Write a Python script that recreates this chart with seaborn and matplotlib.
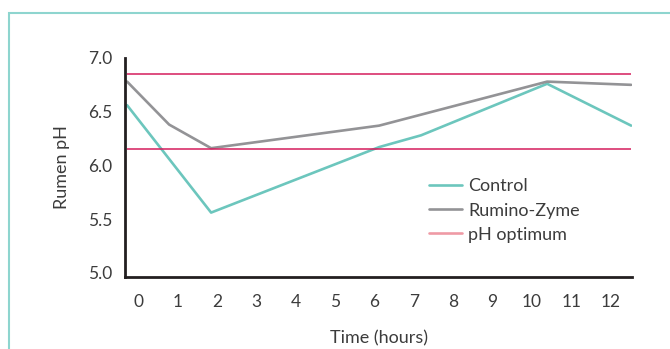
import matplotlib
matplotlib.use("Agg")
import matplotlib.pyplot as plt
from matplotlib.patches import Rectangle
from matplotlib.lines import Line2D
import seaborn as sns
import pandas as pd

# Dados
control_hours = [0, 2, 6, 7, 9, 10, 12]
control_ph = [6.56, 5.56, 6.17, 6.28, 6.60, 6.76, 6.37]
zyme_hours = [0, 1, 2, 6, 10, 12]
zyme_ph = [6.78, 6.38, 6.16, 6.37, 6.78, 6.75]
optimum_ph = [6.15, 6.85]
tick_labels = [str(h) for h in range(13)]

df = pd.concat([
    pd.DataFrame({"Time": control_hours, "pH": control_ph, "Série": "Control"}),
    pd.DataFrame({"Time": zyme_hours, "pH": zyme_ph, "Série": "Rumino-Zyme"}),
])

sns.set_style("white")
plt.rcParams["font.family"] = ["Lato", "DejaVu Sans"]
text_color = "#3c3c3c"

fig = plt.figure(figsize=(6.7, 3.49), dpi=100)
ax = fig.add_axes([125 / 670, 72 / 349, 507 / 670, 219 / 349])

cores = {"Control": "#6cc6bd", "Rumino-Zyme": "#939396"}
sns.lineplot(data=df, x="Time", y="pH", hue="Série", palette=cores,
             linewidth=1.9, ax=ax, legend=False)
ax.hlines(optimum_ph, min(control_hours), max(control_hours),
          color="#d41c5c", linewidth=1.1)

ax.set_xlim(-0.05, 12.02)
ax.set_ylim(4.96, 6.97)
# os rótulos do eixo x não batem exatamente com a escala dos dados no original
ax.set_xticks([0.26 + 0.938 * i for i in range(13)])
ax.set_xticklabels(tick_labels)
ax.set_yticks([5.0, 5.5, 6.0, 6.5, 7.0])
ax.set_yticklabels(["5.0", "5.5", "6.0", "6.5", "7.0"])
ax.tick_params(axis="both", length=0, labelsize=12.5, colors=text_color)
ax.tick_params(axis="x", pad=12)
ax.tick_params(axis="y", pad=9)

ax.set_xlabel("Time (hours)", fontsize=13, color=text_color, labelpad=15)
ax.set_ylabel("Rumen pH", fontsize=13, color=text_color, labelpad=13)

sns.despine(ax=ax)
for lado in ["left", "bottom"]:
    ax.spines[lado].set_color("#231f20")
    ax.spines[lado].set_linewidth(2.0)

handles = [Line2D([], [], color="#6cc6bd", lw=1.9),
           Line2D([], [], color="#939396", lw=1.9),
           Line2D([], [], color="#ef9aa5", lw=1.9)]
ax.legend(handles, ["Control", "Rumino-Zyme", "pH optimum"],
          loc="upper left", bbox_to_anchor=(0.60, 0.45), frameon=False,
          fontsize=13, handlelength=1.8, handletextpad=0.35,
          labelspacing=0.45, borderpad=0, borderaxespad=0,
          labelcolor=text_color)

# moldura turquesa em volta da figura
fig.patches.append(Rectangle((9 / 670, -0.1), 1.2, 1 - 13 / 349 + 0.1,
                             transform=fig.transFigure, fill=False,
                             edgecolor="#8ed5cf", linewidth=1.5))

fig.savefig("out.png", dpi=100)
